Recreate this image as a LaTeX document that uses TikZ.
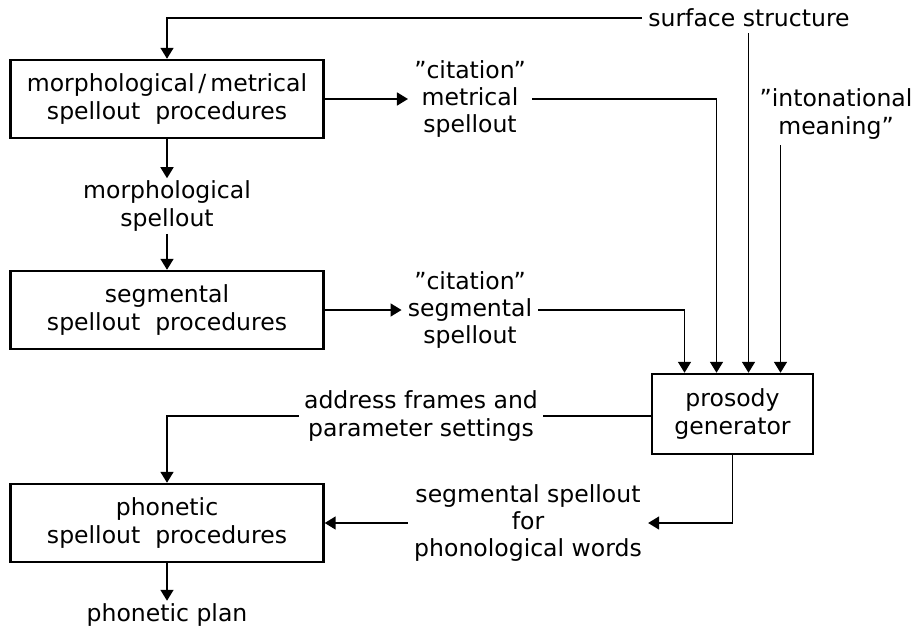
\documentclass[tikz,border=0pt]{standalone}
\usepackage{fontspec}
\setmainfont{DejaVu Sans}
\usetikzlibrary{arrows.meta,calc}

\begin{document}
\begin{tikzpicture}[x=0.02cm, y=-0.02cm,
    every node/.style={font=\fontsize{13.4pt}{15.4pt}\selectfont},
    box/.style={draw, line width=1.4pt, align=center, minimum width=6.26cm, minimum height=1.56cm},
    lbl/.style={align=center, inner sep=0.12cm},
    flow/.style={line width=0.9pt, -{Triangle[length=0.22cm,width=0.26cm]}},
    link/.style={line width=0.9pt}]
    \useasboundingbox (0,0) rectangle (911,628);

    % boxes
    \node[box] (morphmet) at (167,99) {morphological\,/\,metrical\\spellout\ \ procedures};
    \node[box] (segproc) at (167,310) {segmental\\spellout\ \ procedures};
    \node[box] (phonproc) at (167,523) {phonetic\\spellout\ \ procedures};
    \node[box, minimum width=3.22cm, minimum height=1.6cm] (prosody) at (732.5,414) {prosody\\generator};

    % labels
    \node[lbl] (surf) at (749,18) {surface structure};
    \node[lbl] (citmet) at (470,99) {"citation"\\metrical\\spellout};
    \node[lbl, inner ysep=0.05cm] (morph) at (167,206) {morphological\\spellout};
    \node[lbl] (citseg) at (470,310) {"citation"\\segmental\\spellout};
    \node[lbl] (inton) at (836,114) {"intonational\\meaning"};
    \node[lbl, inner sep=0.1cm] (addr) at (421,416) {address frames and\\parameter settings};
    \node[lbl] (segw) at (528,523) {segmental spellout\\for\\phonological words};
    \node[lbl, inner ysep=0.05cm] (plan) at (167,615) {phonetic plan};

    % inputs of the prosody generator
    \coordinate (in1) at ($(prosody.north)+(-48,0)$);
    \coordinate (in2) at ($(prosody.north)+(-16,0)$);
    \coordinate (in3) at ($(prosody.north)+(16,0)$);
    \coordinate (in4) at ($(prosody.north)+(48,0)$);

    \draw[flow] (surf.west) -| (morphmet.north);
    \draw[flow] (surf.south -| in3) -- (in3);
    \draw[flow] (inton.south -| in4) -- (in4);
    \draw[flow] (morphmet.east) -- (citmet.west);
    \draw[flow] (citmet.east) -| (in2);
    \draw[flow] (morphmet.south) -- (morph.north);
    \draw[flow] (morph.south) -- (segproc.north);
    \draw[flow] (segproc.east) -- (citseg.west);
    \draw[flow] (citseg.east) -| (in1);

    \draw[link] (prosody.west |- addr.east) -- (addr.east);
    \draw[flow] (addr.west) -| (phonproc.north);
    \draw[flow] (prosody.south) |- (segw.east);
    \draw[flow] (segw.west) -- (phonproc.east);
    \draw[flow] (phonproc.south) -- (plan.north);
\end{tikzpicture}
\end{document}
